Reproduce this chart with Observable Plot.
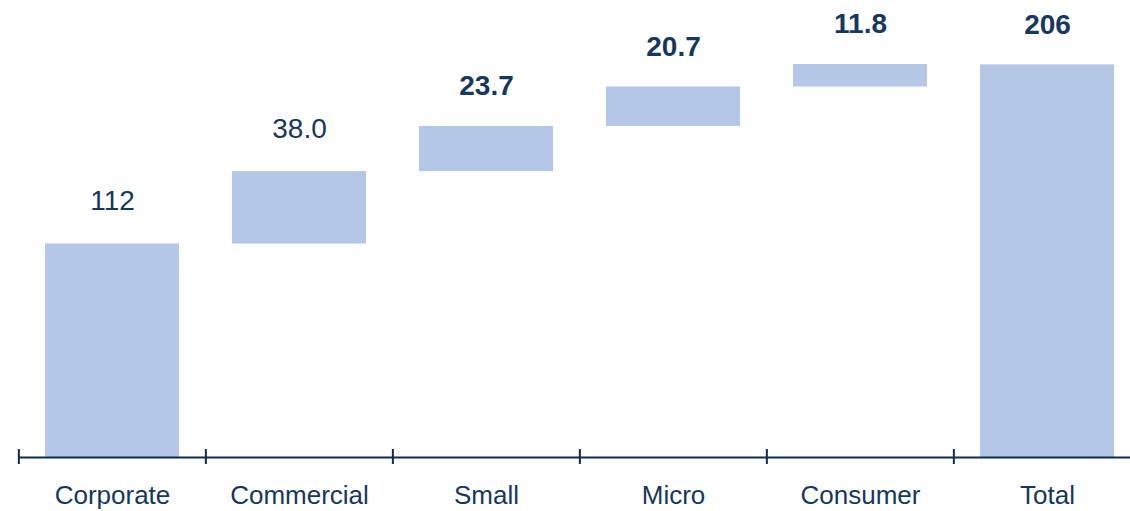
<!DOCTYPE html>
<html>
<head>
<meta charset="utf-8">
<script src="https://cdn.jsdelivr.net/npm/d3@7"></script>
<script src="https://cdn.jsdelivr.net/npm/@observablehq/plot@0.6"></script>
<style>
  html, body { margin: 0; padding: 0; background: white; overflow: hidden; }
</style>
</head>
<body>
<div id="chart"></div>
<script>
const categories = ["Corporate", "Commercial", "Small", "Micro", "Consumer", "Total"];
const values = [112, 38.0, 23.7, 20.7, 11.8, 206];
const valueLabels = ["112", "38.0", "23.7", "20.7", "11.8", "206"];
const boldLabels = ["Small", "Micro", "Consumer", "Total"];

// build waterfall rows
let running = 0;
const rows = categories.map((c, i) => {
  const isTotal = i === categories.length - 1;
  const start = isTotal ? 0 : running;
  const end = isTotal ? values[i] : running + values[i];
  if (!isTotal) running = end;
  return { category: c, start, end, label: valueLabels[i] };
});

const navy = "#17375e";
const axisColor = "#0f2b52";
const barColor = "#b4c7e7";
const xRange = [18, 1141.7];
const step = (xRange[1] - xRange[0]) / categories.length;

const chart = Plot.plot({
  width: 1130,
  height: 511,
  marginLeft: 18,
  marginRight: 0,
  marginTop: 0,
  marginBottom: 54,
  x: { domain: categories, range: xRange, paddingInner: 0.285, paddingOuter: 0.1425, axis: null },
  y: { domain: [0, 206.2], range: [457, 64], axis: null },
  style: { fontFamily: "'Liberation Sans', Arial, sans-serif", background: "white", overflow: "visible" },
  marks: [
    Plot.barY(rows, { x: "category", y1: "start", y2: "end", fill: barColor }),
    Plot.ruleY([0], { stroke: axisColor, strokeWidth: 2 }),
    Plot.ruleX(categories, { x: d => d, dx: -step / 2, y1: 0, y2: 0, insetTop: -8, insetBottom: -7, stroke: axisColor, strokeWidth: 2 }),
    Plot.text(rows.filter(d => !boldLabels.includes(d.category)), {
      x: "category", y: "end", text: "label", dy: -43, fontSize: 28, fill: navy
    }),
    Plot.text(rows.filter(d => boldLabels.includes(d.category)), {
      x: "category", y: "end", text: "label", dy: -40, fontSize: 28, fontWeight: "bold", fill: navy
    }),
    Plot.text(categories, { x: d => d, frameAnchor: "bottom", dy: 46, text: d => d, fontSize: 26, fill: navy })
  ]
});
document.getElementById("chart").appendChild(chart);
</script>
</body>
</html>
